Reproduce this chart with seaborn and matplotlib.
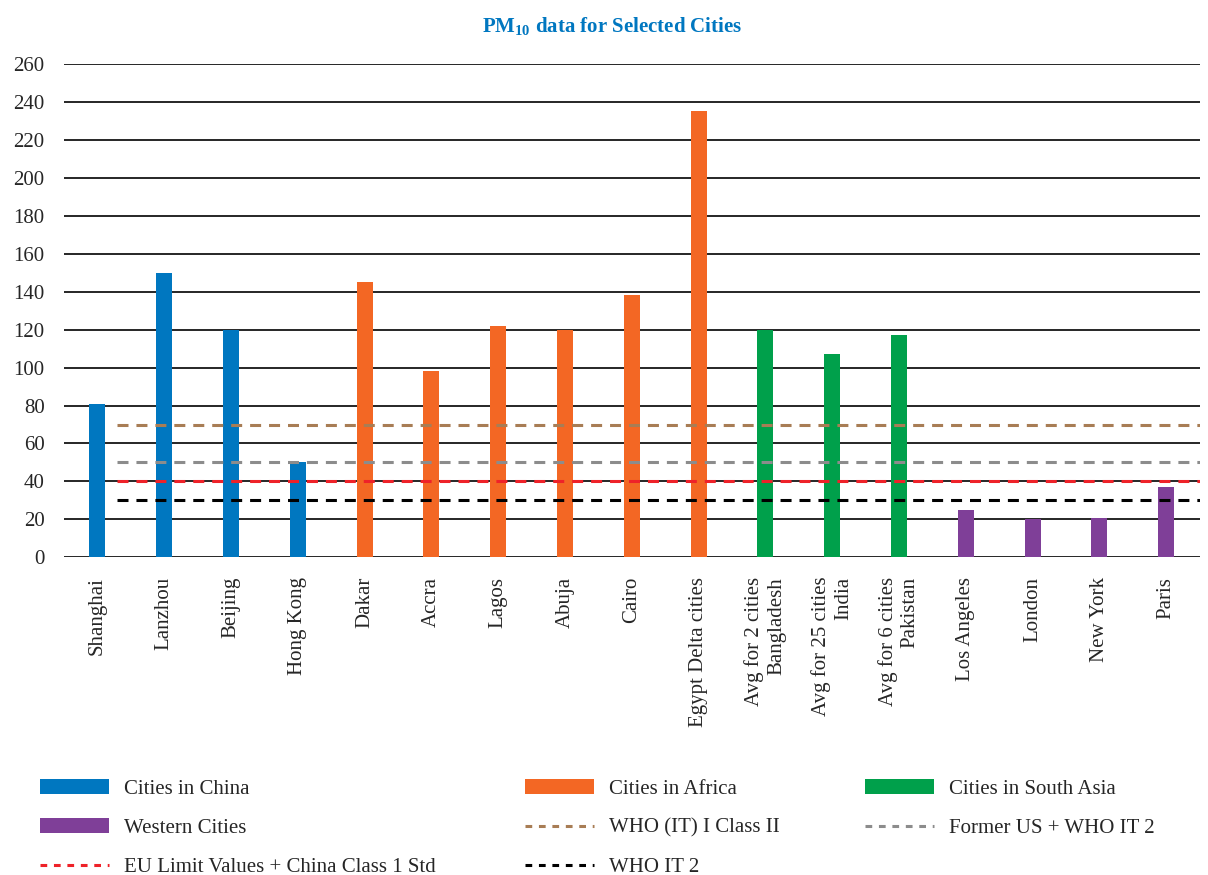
import matplotlib
matplotlib.use("Agg")
import matplotlib.pyplot as plt
import seaborn as sns
import pandas as pd
from matplotlib.patches import Patch
from matplotlib.lines import Line2D

# PM10 values per city
cities = ['Shanghai', 'Lanzhou', 'Beijing', 'Hong Kong', 'Dakar', 'Accra', 'Lagos',
          'Abuja', 'Cairo', 'Egypt Delta cities', 'Avg for 2 cities\nBangladesh',
          'Avg for 25 cities\nIndia', 'Avg for 6 cities\nPakistan', 'Los Angeles',
          'London', 'New York', 'Paris']
pm10 = [81, 150, 120, 50, 145, 98, 122, 120, 138, 235, 120, 107, 117, 25, 20, 21, 37]
groups = ['Cities in China'] * 4 + ['Cities in Africa'] * 6 + \
         ['Cities in South Asia'] * 3 + ['Western Cities'] * 4

group_names = ['Cities in China', 'Cities in Africa', 'Cities in South Asia', 'Western Cities']
group_colors = ['#0077C0', '#F36724', '#00A04B', '#7F3F98']

# reference limit lines
limit_names = ['WHO (IT) I Class II', 'Former US + WHO IT 2',
               'EU Limit Values + China Class 1 Std', 'WHO IT 2']
limit_values = [70, 50, 40, 30]
limit_colors = ['#A87D55', '#8C8C8C', '#EE2229', '#000000']

yticks = list(range(0, 261, 20))

df = pd.DataFrame({'City': cities, 'PM10': pm10, 'Group': groups})

sns.set_style('white')
plt.rcParams['font.family'] = ['Liberation Serif', 'DejaVu Serif']
plt.rcParams['mathtext.fontset'] = 'custom'
plt.rcParams['mathtext.rm'] = 'Liberation Serif'
plt.rcParams['mathtext.bf'] = 'Liberation Serif:bold'

fig = plt.figure(figsize=(12.08, 8.75), dpi=100)
ax = fig.add_axes([0.053, 0.363, 0.94, 0.564])

# gridlines behind everything
for v in yticks:
    ax.axhline(v, color='#262626', lw=1.4, zorder=0)

sns.barplot(data=df, x='City', y='PM10', hue='Group', hue_order=group_names,
            palette=dict(zip(group_names, group_colors)), dodge=False,
            width=0.24, saturation=1, legend=False, linewidth=0, ax=ax, zorder=2)

n = len(cities)
for name, val, col in zip(limit_names, limit_values, limit_colors):
    ax.plot([0.3, n - 0.5], [val, val], color=col, lw=2.2,
            dashes=(3.6, 2.6), zorder=3)

ax.set_xlim(-0.5, n - 0.5)
ax.set_ylim(0, 260)
ax.set_yticks(yticks)
ax.set_xlabel('')
ax.set_ylabel('')
ax.tick_params(axis='y', labelsize=15, pad=14, length=0)
ax.tick_params(axis='x', labelsize=15, pad=14, length=0)
ax.set_xticks(range(n))
ax.set_xticklabels(cities, rotation=90)
for lab in ax.get_xticklabels():
    lab.set_multialignment('right')
for s in ax.spines.values():
    s.set_visible(False)

fig.text(0.507, 1 - 27 / 875, r'PM$_{\mathbf{10}}$ data for Selected Cities',
         ha='center', va='center', fontsize=15, fontweight='bold', color='#0077C0')

# legend built in three columns
patches = [Patch(facecolor=c, edgecolor='none') for c in group_colors]
lines = [Line2D([], [], color=c, lw=2.2, dashes=(2.2, 2.2)) for c in limit_colors]
cols = [
    ([patches[0], patches[3], lines[2]], [group_names[0], group_names[3], limit_names[2]], 40),
    ([patches[1], lines[0], lines[3]], [group_names[1], limit_names[0], limit_names[3]], 525),
    ([patches[2], lines[1]], [group_names[2], limit_names[1]], 865),
]
for hs, ls, x in cols:
    leg = fig.legend(hs, ls, loc='upper left', bbox_to_anchor=(x / 1208, 1 - 779 / 875),
                     frameon=False, fontsize=15, handlelength=3.3, handleheight=0.7,
                     handletextpad=0.75, labelspacing=0.95, borderpad=0,
                     borderaxespad=0)

fig.savefig('out.png', dpi=100)
